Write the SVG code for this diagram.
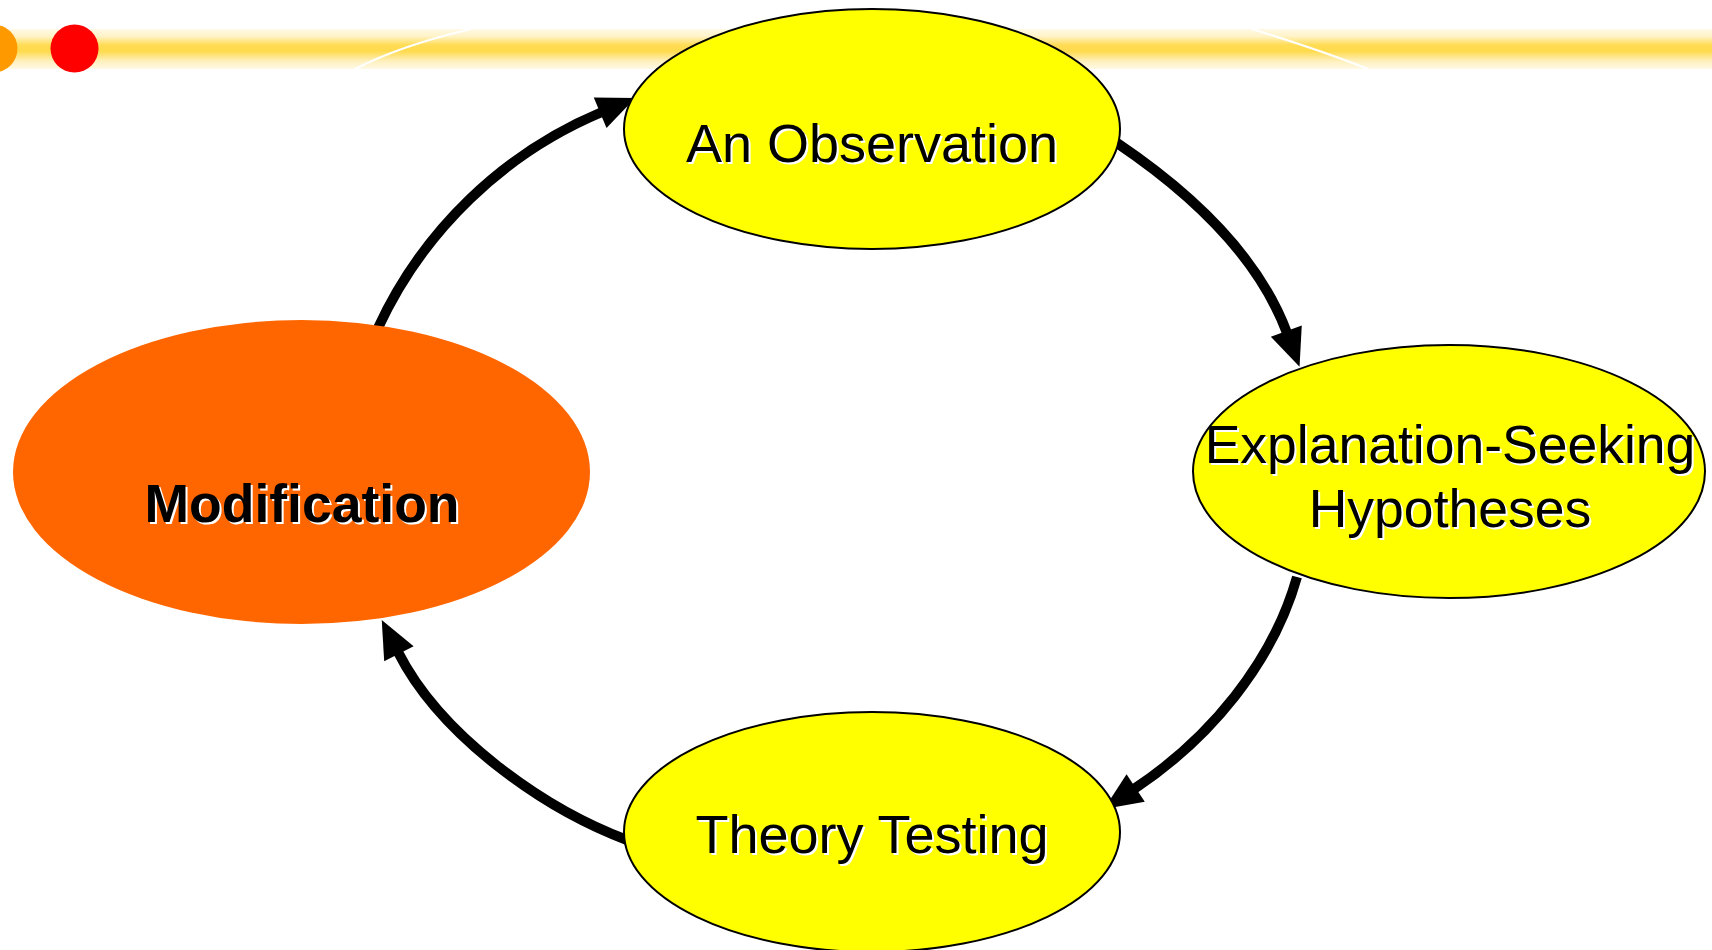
<svg xmlns="http://www.w3.org/2000/svg" width="1712" height="950" viewBox="0 0 1712 950">
  <defs>
    <linearGradient id="band" x1="0" y1="0" x2="0" y2="1">
      <stop offset="0" stop-color="#FFF9E6"/>
      <stop offset="0.18" stop-color="#FFF3C8"/>
      <stop offset="0.4" stop-color="#FFDC55"/>
      <stop offset="0.55" stop-color="#FFDA4C"/>
      <stop offset="0.8" stop-color="#FFF0BC"/>
      <stop offset="1" stop-color="#FFF9E6"/>
    </linearGradient>
    <marker id="arrow" viewBox="-2 -20 42 40" markerWidth="42" markerHeight="40" refX="0" refY="0" markerUnits="userSpaceOnUse" orient="auto" overflow="visible">
      <path d="M-2,-16.5 L36,0 L-2,16.5 z" fill="#000"/>
    </marker>
  </defs>
  <style>
    .conn { fill: none; stroke: #000; stroke-width: 10; marker-end: url(#arrow); }
    .yel { fill: #FFFF00; stroke: #000; stroke-width: 2; }
    .org { fill: #FF6600; stroke: none; }
    .lbl { font-family: "Liberation Sans", Arial, sans-serif; text-anchor: middle; fill: #000; }
    .shadow { fill: #FFFFFF; }
    .bold { font-weight: bold; }
  </style>
  <rect x="0" y="0" width="1712" height="950" fill="#FFFFFF"/>

  <g id="banner">
    <rect x="0" y="29" width="1712" height="40" fill="url(#band)"/>
    <path d="M355,69 Q402,45 471,29" fill="none" stroke="#FFFFFF" stroke-width="2"/>
    <path d="M1252,29 Q1320,50 1368,69" fill="none" stroke="#FFFFFF" stroke-width="2"/>
    <circle cx="-6.5" cy="48.5" r="24" fill="#FF9900"/>
    <circle cx="74.5" cy="48.5" r="24" fill="#FF0000"/>
  </g>

  <g id="connectors">
    <path class="conn" d="M378,328 A430,430 0 0 1 602,112"/>
    <path class="conn" d="M1117,143 C1187.6,190.6 1257.3,253.1 1287,333"/>
    <path class="conn" d="M1297,577 C1272.7,663.4 1208.7,739.5 1134,789"/>
    <path class="conn" d="M627,840 C542,808 440,735 398,652"/>
  </g>

  <g id="node-observation">
    <ellipse class="yel" cx="872" cy="129" rx="248" ry="120"/>
    <text class="lbl shadow" x="874" y="164" font-size="54">An Observation</text>
    <text class="lbl" x="872" y="162" font-size="54">An Observation</text>
  </g>

  <g id="node-hypotheses">
    <ellipse class="yel" cx="1449" cy="471.5" rx="256" ry="126.5"/>
    <text class="lbl shadow" x="1452" y="465" font-size="53.5">Explanation-Seeking</text>
    <text class="lbl" x="1450" y="463" font-size="53.5">Explanation-Seeking</text>
    <text class="lbl shadow" x="1452" y="529" font-size="53.5">Hypotheses</text>
    <text class="lbl" x="1450" y="527" font-size="53.5">Hypotheses</text>
  </g>

  <g id="node-theory">
    <ellipse class="yel" cx="872" cy="832" rx="248" ry="120"/>
    <text class="lbl shadow" x="874" y="855" font-size="54">Theory Testing</text>
    <text class="lbl" x="872" y="853" font-size="54">Theory Testing</text>
  </g>

  <g id="node-modification">
    <ellipse class="org" cx="301.5" cy="472" rx="288.5" ry="152"/>
    <text class="lbl shadow bold" x="304" y="524" font-size="53.5">Modification</text>
    <text class="lbl bold" x="302" y="522" font-size="53.5">Modification</text>
  </g>
</svg>
